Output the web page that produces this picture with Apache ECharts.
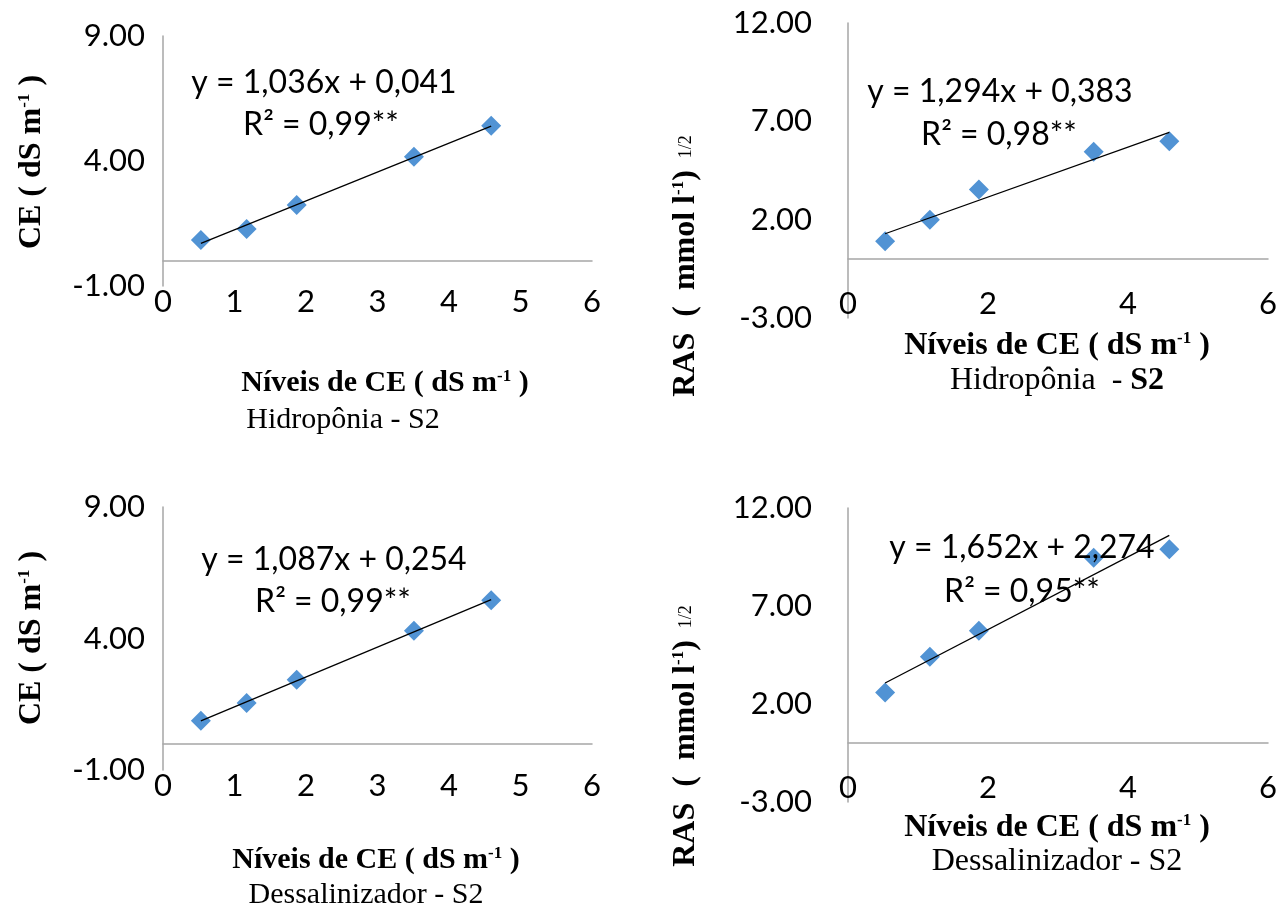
<!DOCTYPE html>
<html>
<head>
<meta charset="utf-8">
<script src="https://cdn.jsdelivr.net/npm/echarts@6/dist/echarts.min.js"></script>
<style>
html, body { margin: 0; padding: 0; background: #fff; }
#chart { width: 1285px; height: 909px; }
</style>
</head>
<body>
<div id="chart"></div>
<script>
// níveis de CE da água (eixo x, comum aos 4 gráficos)
var ceLevels = [0.53, 1.17, 1.87, 3.51, 4.59];

// valores
var ceHidroponia = [0.84, 1.28, 2.24, 4.17, 5.41];
var rasHidroponia = [0.90, 1.99, 3.54, 5.45, 5.99];
var ceDessalinizador = [0.87, 1.55, 2.43, 4.29, 5.45];
var rasDessalinizador = [2.59, 4.41, 5.74, 9.46, 9.89];

// rótulos dos eixos
var ceTicks = [-1, 4, 9];
var rasTicks = [-3, 2, 7, 12];

// equações impressas no gráfico
var equations = ['y = 1,036x + 0,041', 'y = 1,294x + 0,383', 'y = 1,087x + 0,254', 'y = 1,652x + 2,274'];
var r2Labels = ['R² = 0,99**', 'R² = 0,98**', 'R² = 0,99**', 'R² = 0,95**'];

var GREY = '#a6a6a6';
var BLUE = '#5193d4';
var SANS = 'Lato';
var SERIF = 'Liberation Serif';

var panels = [
    {grid: {left: 163, top: 36, width: 429, height: 250}, y: ceHidroponia, ticks: ceTicks, xInterval: 1,
        xMargin: 0, yMargin: 18, eq: [324, 83], r2: [321, 125]},
    {grid: {left: 848, top: 23, width: 420, height: 295}, y: rasHidroponia, ticks: rasTicks, xInterval: 2,
        xMargin: -30, yMargin: 36, eq: [1000, 92], r2: [999, 135]},
    {grid: {left: 163, top: 507, width: 429, height: 263}, y: ceDessalinizador, ticks: ceTicks, xInterval: 1,
        xMargin: 0, yMargin: 18, eq: [334, 560], r2: [333, 602]},
    {grid: {left: 848, top: 508, width: 420, height: 294}, y: rasDessalinizador, ticks: rasTicks, xInterval: 2,
        xMargin: -30, yMargin: 36, eq: [1022, 548], r2: [1022, 592]}
];

// reta de tendência por mínimos quadrados
function trend(xs, ys) {
    var n = xs.length, mx = 0, my = 0, sxx = 0, sxy = 0;
    for (var i = 0; i < n; i++) { mx += xs[i]; my += ys[i]; }
    mx /= n; my /= n;
    for (var j = 0; j < n; j++) {
        sxx += (xs[j] - mx) * (xs[j] - mx);
        sxy += (xs[j] - mx) * (ys[j] - my);
    }
    var b = sxy / sxx, a = my - b * mx;
    var x0 = xs[0], x1 = xs[n - 1];
    return [[x0, a + b * x0], [x1, a + b * x1]];
}

function textEl(x, y, text, extra, rotation) {
    var style = {text: text, x: 0, y: 0, align: 'center', verticalAlign: 'middle', fill: '#000'};
    for (var key in extra) style[key] = extra[key];
    return {type: 'text', x: x, y: y, rotation: rotation || 0, style: style, z: 10};
}

var grids = [], xAxes = [], yAxes = [], series = [], graphics = [];

for (var i = 0; i < panels.length; i++) {
    var p = panels[i];
    grids.push(p.grid);
    xAxes.push({
        type: 'value', gridIndex: i, min: 0, max: 6, interval: p.xInterval,
        axisLine: {show: true, onZero: true, lineStyle: {color: GREY, width: 1.5}},
        axisTick: {show: false},
        splitLine: {show: false},
        axisLabel: {margin: p.xMargin, fontFamily: SANS, fontSize: 31, color: '#000'}
    });
    yAxes.push({
        type: 'value', gridIndex: i, min: p.ticks[0], max: p.ticks[p.ticks.length - 1],
        axisLine: {show: true, onZero: false, lineStyle: {color: GREY, width: 1.5}},
        axisTick: {show: false},
        splitLine: {show: false},
        axisLabel: {
            customValues: p.ticks, margin: p.yMargin,
            fontFamily: SANS, fontSize: 31, color: '#000',
            formatter: function (v) { return v.toFixed(2); }
        }
    });
    var pts = [];
    for (var k = 0; k < ceLevels.length; k++) pts.push([ceLevels[k], p.y[k]]);
    series.push({
        type: 'scatter', xAxisIndex: i, yAxisIndex: i, data: pts,
        symbol: 'diamond', symbolSize: 20, itemStyle: {color: BLUE, opacity: 1}, z: 2
    });
    series.push({
        type: 'line', xAxisIndex: i, yAxisIndex: i, data: trend(ceLevels, p.y),
        showSymbol: false, symbol: 'none', lineStyle: {color: '#000', width: 1.3}, z: 3
    });
    graphics.push(textEl(p.eq[0], p.eq[1], equations[i], {font: '32px ' + SANS}));
    graphics.push(textEl(p.r2[0], p.r2[1], r2Labels[i], {font: '32px ' + SANS}));
}

function richFor(size) {
    return {
        b: {fontFamily: SERIF, fontWeight: 'bold', fontSize: size, color: '#000'},
        s: {fontFamily: SERIF, fontWeight: 'bold', fontSize: 17, color: '#000', verticalAlign: 'top'},
        r: {fontFamily: SERIF, fontSize: size, color: '#000'},
        h: {fontFamily: SERIF, fontSize: 18, color: '#000', verticalAlign: 'middle', padding: [0, 0, 0, 12]}
    };
}
var rich30 = richFor(30), rich32 = richFor(32);
var xTitle = '{b|Níveis de CE ( dS m}{s|-1}{b| )}';

// títulos dos eixos x e legendas de cada painel
graphics.push(textEl(385, 383, xTitle, {rich: rich30}));
graphics.push(textEl(343, 420, '{r|Hidropônia - S2}', {rich: rich30}));
graphics.push(textEl(1057, 346, xTitle, {rich: rich32}));
graphics.push(textEl(1057, 381, '{r|Hidropônia  - }{b|S2}', {rich: rich32}));
graphics.push(textEl(376, 860, xTitle, {rich: rich30}));
graphics.push(textEl(366, 895, '{r|Dessalinizador - S2}', {rich: rich30}));
graphics.push(textEl(1057, 828, xTitle, {rich: rich32}));
graphics.push(textEl(1057, 862, '{r|Dessalinizador - S2}', {rich: rich32}));

// títulos dos eixos y
var ceTitle = '{b|CE ( dS m}{s|-1}{b| )}';
var rasTitle = '{b|RAS  (  mmol l}{s|-1}{b|)}{h|1/2}';
graphics.push(textEl(32, 162, ceTitle, {rich: rich32}, Math.PI / 2));
graphics.push(textEl(32, 638, ceTitle, {rich: rich32}, Math.PI / 2));
graphics.push(textEl(686, 266, rasTitle, {rich: rich32}, Math.PI / 2));
graphics.push(textEl(686, 736, rasTitle, {rich: rich32}, Math.PI / 2));

var chart = echarts.init(document.getElementById('chart'));
chart.setOption({
    animation: false,
    grid: grids,
    xAxis: xAxes,
    yAxis: yAxes,
    series: series,
    graphic: graphics
});
</script>
</body>
</html>
